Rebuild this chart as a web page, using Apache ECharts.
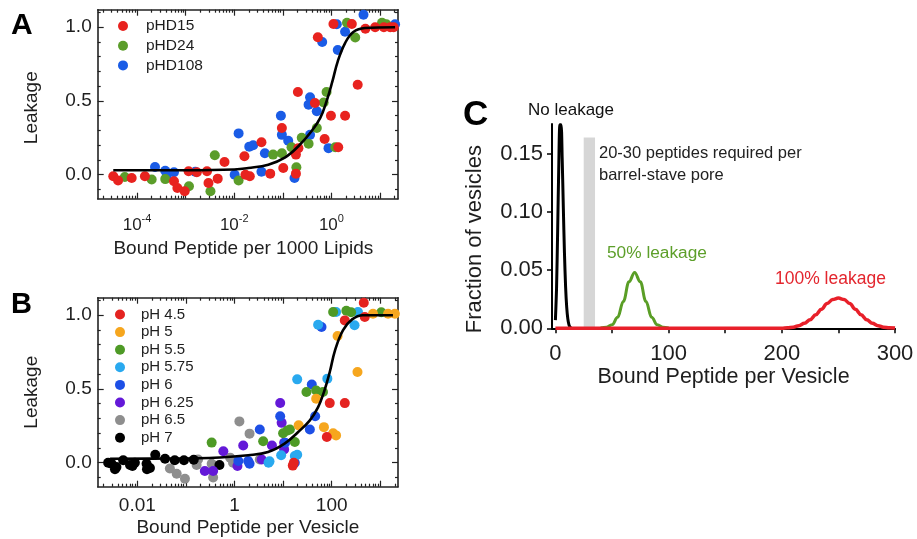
<!DOCTYPE html>
<html><head><meta charset="utf-8">
<script src="https://cdn.jsdelivr.net/npm/echarts@6/dist/echarts.min.js"></script>
<style>html,body{margin:0;padding:0;background:#fff}#c{width:917px;height:539px}</style>
</head><body><div id="c"></div>
<script>
// ---------- Panel A data (x: bound peptide per 1000 lipids, y: leakage) ----------
const pHD15 = [[3.24e-5,-0.011],[4.07e-5,-0.04],[7.76e-5,-0.022],[1.45e-4,-0.011],[5.75e-4,-0.045],[6.76e-4,-0.09],[9.55e-4,-0.113],[1.15e-3,0.023],[1.7e-3,0.016],[2.75e-3,0.023],[2.95e-3,-0.056],[4.57e-3,-0.027],[6.31e-3,0.086],[0.0162,0.125],[0.017,0.0],[0.0209,-0.011],[0.0363,0.22],[0.055,0.007],[0.0955,0.317],[0.102,0.045],[0.186,0.007],[0.186,0.136],[0.204,0.561],[0.209,0.18],[0.457,0.486],[0.525,0.932],[0.724,0.242],[0.977,0.40],[1.10,1.022],[1.38,0.186],[1.91,0.40],[2.63,1.022],[3.47,0.61],[5.0,0.99],[7.94,1.0],[12.0,1.0],[16.2,1.0],[19.1,1.0]];
const pHD24 = [[5.6e-5,-0.016],[2.0e-4,-0.033],[3.8e-4,-0.03],[1.17e-3,-0.079],[3.24e-3,-0.113],[3.98e-3,0.132],[0.0123,-0.04],[0.063,0.136],[0.0955,0.145],[0.151,0.186],[0.19,0.05],[0.245,0.25],[0.339,0.21],[0.50,0.317],[0.692,0.49],[0.794,0.561],[1.20,0.186],[2.09,1.03],[3.09,0.93],[11.0,1.03],[13.5,1.02]];
const pHD108 = [[2.34e-4,0.052],[3.8e-4,0.027],[4.07e-4,-0.016],[5.75e-4,0.016],[1.58e-3,0.02],[0.0102,0.0],[0.0123,0.28],[0.0204,0.19],[0.0245,0.2],[0.0363,0.02],[0.0427,0.145],[0.0912,0.40],[0.0955,0.27],[0.129,0.23],[0.174,-0.022],[0.339,0.475],[0.363,0.525],[0.363,0.27],[0.50,0.43],[0.646,0.90],[0.871,0.18],[1.29,1.02],[1.35,0.846],[1.91,0.97],[4.57,1.085],[20.4,1.02]];
const fitA_x = [3.24e-5,1e-3,0.01,0.0195,0.0501,0.112,0.209,0.389,0.589,0.794,1.05,1.35,1.91,2.82,4.9,20.4];
const fitA_y = [0.03,0.03,0.035,0.045,0.068,0.118,0.193,0.294,0.385,0.498,0.634,0.769,0.893,0.968,0.995,1.0];

// ---------- Panel B data (x: bound peptide per vesicle, y: leakage) ----------
const pH45 = [[15.8,-0.02],[16.6,0.0],[79.4,0.174],[91.2,0.404],[186,0.404],[186,0.965],[457,1.085],[479,0.988]];
const pH5 = [[20.9,0.253],[47.9,0.434],[69.2,0.241],[107,0.2],[123,0.185],[132,0.859],[339,0.615],[708,1.01],[1445,1.01],[1995,1.01]];
const pH55 = [[0.339,0.136],[3.89,0.145],[10,0.2],[12.3,0.219],[13.8,0.225],[17.4,0.14],[30.2,0.479],[47.9,0.49],[66.1,0.479],[107,1.022],[200,1.03],[251,1.02],[1047,1.02]];
const pH575 = [[5.01,0.0],[5.25,0.009],[9.12,0.05],[17.4,0.045],[19.5,0.054],[19.5,0.565],[52.5,0.936],[81.3,0.57],[123,1.022],[295,0.932],[347,1.022]];
const pH6 = [[1.2,0.011],[1.91,0.011],[2.04,-0.007],[3.31,0.225],[8.71,0.315],[11.0,0.135],[17.4,0.0],[35.5,0.225],[38.9,0.53],[45.7,0.315],[61.7,0.92]];
const pH625 = [[0.245,-0.057],[0.363,-0.057],[0.589,0.078],[1.15,-0.023],[1.51,0.117],[3.63,0.022],[5.89,0.117],[8.71,0.405],[9.33,0.27],[10.5,0.135],[10.5,0.09]];
const pH65 = [[0.0468,-0.04],[0.0646,-0.075],[0.0955,-0.109],[0.166,-0.016],[0.178,0.022],[0.339,-0.007],[0.363,-0.1],[0.813,0.034],[0.933,0.0],[1.26,0.28],[2.04,0.197],[3.31,0.022]];
const pH7 = [[0.00251,0.0],[0.00295,-0.007],[0.00347,-0.045],[0.00372,-0.03],[0.00513,0.016],[0.00708,-0.016],[0.00794,-0.023],[0.00891,0.0],[0.0155,-0.007],[0.0158,-0.045],[0.0182,-0.036],[0.0234,0.054],[0.0372,0.027],[0.0589,0.016],[0.0912,0.016],[0.145,0.02],[0.49,-0.016]];
const fitB_x = [0.00275,0.05,0.5,1.91,4.9,10.7,20.4,35.5,52.5,69.2,91.2,117,170,263,437,1820];
const fitB_y = [0.027,0.028,0.035,0.05,0.072,0.129,0.208,0.287,0.377,0.479,0.615,0.762,0.898,0.972,1.0,1.0];

// ---------- Panel C data (x: bound peptide per vesicle, y: fraction of vesicles) ----------
const noLeak_x = [0,1,2,3,4,5,6,7,8,9,10,11,12,13,14];
const noLeak_y = [0.007,0.034,0.084,0.14,0.175,0.175,0.146,0.104,0.065,0.036,0.018,0.008,0.003,0.001,0];
const half_x = [40,45,50,55,60,65,70,75,80,85,90,95,100];
const half_y = [0.0003,0.0009,0.003,0.0095,0.023,0.04,0.048,0.04,0.023,0.0095,0.003,0.0009,0.0002];
const full_x = [0,100,200,205,210,215,220,225,230,235,240,245,250,255,260,265,270,275,280,285,290,295,300];
const full_y = [0,0,0,0.0005,0.001,0.0023,0.0043,0.0074,0.0117,0.0163,0.0213,0.0248,0.026,0.0248,0.0213,0.0163,0.0117,0.0074,0.0043,0.0023,0.001,0.0005,0.0002];
const barrel_x = [25,35];
const barrel_top = 0.164;

// tick labels
const aXLabels = [1e-4,1e-2,1];
const bXLabels = [0.01,1,100];
const abYLabels = [0,0.5,1];
const cXLabels = [0,100,200,300];
const cYLabels = [0,0.05,0.10,0.15];

// ---------- styling / layout ----------
const FONT = 'Liberation Sans';
const TXT = '#1e1e1e';
const LINE = '#222';
function decadeMinor(k0,k1){const r=[];for(let k=k0;k<=k1;k++)for(let m=2;m<=9;m++)r.push(m*Math.pow(10,k));return r;}
function decadeMajor(k0,k1){const r=[];for(let k=k0;k<=k1;k++)r.push(Math.pow(10,k));return r;}
const linMinor=[-0.1,0.1,0.2,0.3,0.4,0.6,0.7,0.8,0.9,1.1];

function mk(grid,type,pos,min,max,ticks,len,line,label,name){
  const ax={type,gridIndex:grid,position:pos,min,max,silent:true,
    axisLine:{show:line,onZero:false,lineStyle:{color:LINE,width:1.6}},
    axisTick:{show:true,inside:true,length:len,customValues:ticks,lineStyle:{color:LINE,width:1.2}},
    axisLabel:{show:false},splitLine:{show:false},minorTick:{show:false}};
  if(type==='log') ax.logBase=10;
  if(label){ax.axisLabel=Object.assign({show:true,color:TXT,fontFamily:FONT,fontSize:19},label);}
  if(name){Object.assign(ax,{name:name.text,nameLocation:'middle',nameGap:name.gap,
    nameTextStyle:{color:TXT,fontFamily:FONT,fontSize:name.size||19,padding:name.padding||0}});}
  return ax;
}
const aXmin=1.549e-5,aXmax=23.44,bXmin=1.531e-3,bXmax=2312,yMin=-0.163,yMax=1.119;
const supRich={b:{fontSize:17,lineHeight:20,verticalAlign:'bottom',color:TXT,fontFamily:FONT},
  s:{fontSize:11,lineHeight:11,padding:[0,0,14,0],verticalAlign:'top',color:TXT,fontFamily:FONT}};
const xAxes=[
  mk(0,'log','bottom',aXmin,aXmax,decadeMajor(-4,1),6,true,
     {customValues:aXLabels,margin:15,rich:supRich,formatter:v=>'{b|10}{s|'+Math.round(Math.log10(v))+'}'},
     {text:'Bound Peptide per 1000 Lipids',gap:34,padding:[0,9,0,0]}),
  mk(0,'log','bottom',aXmin,aXmax,decadeMinor(-5,1),3,false),
  mk(0,'log','top',aXmin,aXmax,decadeMajor(-4,1),6,true),
  mk(0,'log','top',aXmin,aXmax,decadeMinor(-5,1),3,false),
  mk(1,'log','bottom',bXmin,bXmax,decadeMajor(-2,3),6,true,
     {customValues:bXLabels,margin:10,lineHeight:19,formatter:v=>v>=1?String(Math.round(v)):String(v)},
     {text:'Bound Peptide per Vesicle',gap:32}),
  mk(1,'log','bottom',bXmin,bXmax,decadeMinor(-3,3),3,false),
  mk(1,'log','top',bXmin,bXmax,decadeMajor(-2,3),6,true),
  mk(1,'log','top',bXmin,bXmax,decadeMinor(-3,3),3,false),
  {type:'value',gridIndex:2,position:'bottom',min:-3,max:300,silent:true,
    axisLine:{show:true,onZero:false,lineStyle:{color:'#000',width:2}},
    axisTick:{show:true,inside:false,length:5,customValues:[0,50,100,150,200,250,300],lineStyle:{color:'#000',width:1.5}},
    axisLabel:{show:true,customValues:cXLabels,margin:15,color:TXT,fontFamily:FONT,fontSize:22},
    splitLine:{show:false},
    name:'Bound Peptide per Vesicle',nameLocation:'middle',nameGap:38,
    nameTextStyle:{color:TXT,fontFamily:FONT,fontSize:21.5}}
];
const yAxes=[
  mk(0,'value','left',yMin,yMax,abYLabels,6,true,
     {customValues:abYLabels,margin:6,formatter:v=>v.toFixed(1)},
     {text:'Leakage',gap:56,padding:[0,7,0,0]}),
  mk(0,'value','left',yMin,yMax,linMinor,3,false),
  mk(0,'value','right',yMin,yMax,abYLabels,6,true),
  mk(0,'value','right',yMin,yMax,linMinor,3,false),
  mk(1,'value','left',yMin,yMax,abYLabels,6,true,
     {customValues:abYLabels,margin:6,formatter:v=>v.toFixed(1)},
     {text:'Leakage',gap:56}),
  mk(1,'value','left',yMin,yMax,linMinor,3,false),
  mk(1,'value','right',yMin,yMax,abYLabels,6,true),
  mk(1,'value','right',yMin,yMax,linMinor,3,false),
  {type:'value',gridIndex:2,position:'left',min:0,max:0.1757,silent:true,
    axisLine:{show:true,onZero:false,lineStyle:{color:'#000',width:2}},
    axisTick:{show:true,inside:false,length:5,customValues:cYLabels,lineStyle:{color:'#000',width:1.5}},
    axisLabel:{show:true,customValues:cYLabels,margin:9,color:TXT,fontFamily:FONT,fontSize:22,formatter:v=>v.toFixed(2)},
    splitLine:{show:false},
    name:'Fraction of vesicles',nameLocation:'middle',nameGap:66,
    nameTextStyle:{color:TXT,fontFamily:FONT,fontSize:22,padding:[0,26,0,0]}}
];

function sc(name,data,color,xi,z){return {name,type:'scatter',data,xAxisIndex:xi,yAxisIndex:xi,symbol:'circle',symbolSize:10,itemStyle:{color,opacity:1},z:z||2,silent:true};}
function zip(xs,ys){return xs.map((x,i)=>[x,ys[i]]);}

const series=[
  sc('pHD108',pHD108,'#1a5ce6',0),
  sc('pHD24',pHD24,'#5b9d2a',0),
  sc('pHD15',pHD15,'#e8231f',0),
  {name:'fitA',type:'line',data:zip(fitA_x,fitA_y),xAxisIndex:0,yAxisIndex:0,smooth:0.4,symbol:'none',lineStyle:{color:'#000',width:2.6},z:5,silent:true},
  sc('pH 6.5',pH65,'#8e8e8e',4),
  sc('pH 7',pH7,'#000000',4),
  sc('pH 6.25',pH625,'#6419d8',4),
  sc('pH 6',pH6,'#1d4fe6',4),
  sc('pH 5.75',pH575,'#29a9ef',4),
  sc('pH 5.5',pH55,'#4e9a26',4),
  sc('pH 5',pH5,'#f6a61e',4),
  sc('pH 4.5',pH45,'#e42320',4),
  {name:'fitB',type:'line',data:zip(fitB_x,fitB_y),xAxisIndex:4,yAxisIndex:4,smooth:0.4,symbol:'none',lineStyle:{color:'#000',width:2.6},z:5,silent:true},
  {name:'No leakage',type:'line',data:zip(noLeak_x,noLeak_y),xAxisIndex:8,yAxisIndex:8,smooth:0.3,symbol:'none',lineStyle:{color:'#000',width:3},z:3,silent:true},
  {name:'50% leakage',type:'line',data:zip(half_x,half_y),xAxisIndex:8,yAxisIndex:8,smooth:0.4,smoothMonotone:'x',symbol:'none',lineStyle:{color:'#5a9e26',width:3},z:3,silent:true},
  {name:'100% leakage',type:'line',data:zip(full_x,full_y),xAxisIndex:8,yAxisIndex:8,smooth:0.4,smoothMonotone:'x',symbol:'none',lineStyle:{color:'#e8202a',width:3.5},z:4,silent:true},
  {name:'barrel',type:'line',data:[],xAxisIndex:8,yAxisIndex:8,z:6,silent:true,
    markArea:{silent:true,itemStyle:{color:'#d2d2d2',opacity:0.9},data:[[{coord:[barrel_x[0],0]},{coord:[barrel_x[1],barrel_top]}]]}}
];

function txt(t,x,y,size,color,weight){return {type:'text',x,y,z:100,silent:true,style:{text:t,x:0,y:0,fill:color,font:(weight||'normal')+' '+size+'px "'+FONT+'"',fontSize:size,fontFamily:FONT,fontWeight:weight||'normal',textAlign:'left',textVerticalAlign:'middle',align:'left',verticalAlign:'middle'}};}

const option={
  animation:false,
  backgroundColor:'#fff',
  textStyle:{fontFamily:FONT},
  grid:[
    {left:97.7,top:9.7,width:300.3,height:189,containLabel:false},
    {left:97.7,top:297.7,width:300.3,height:189,containLabel:false},
    {left:552,top:124,width:343,height:204.3,containLabel:false}
  ],
  xAxis:xAxes,
  yAxis:yAxes,
  legend:[
    {data:['pHD15','pHD24','pHD108'],orient:'vertical',left:113,top:13,itemWidth:10,itemHeight:10,itemGap:3.7,icon:'circle',selectedMode:false,
      formatter:n=>'{t|'+n+'}',
      textStyle:{fontSize:15.5,color:TXT,fontFamily:FONT,rich:{t:{fontSize:15.5,lineHeight:16,color:TXT,fontFamily:FONT,padding:[0,0,0,13]}}}},
    {data:['pH 4.5','pH 5','pH 5.5','pH 5.75','pH 6','pH 6.25','pH 6.5','pH 7'],orient:'vertical',left:110,top:302,itemWidth:10,itemHeight:10,itemGap:2.6,icon:'circle',selectedMode:false,
      formatter:n=>'{t|'+n+'}',
      textStyle:{fontSize:15,color:TXT,fontFamily:FONT,rich:{t:{fontSize:15,lineHeight:15,color:TXT,fontFamily:FONT,padding:[0,0,0,11]}}}}
  ],
  graphic:[
    txt('A',11,26,30,'#000','bold'),
    txt('B',11,305,29,'#000','bold'),
    txt('C',463,115,35,'#000','bold'),
    txt('No leakage',528,110,17,'#111'),
    txt('20-30 peptides required per',599,153,16.5,'#222'),
    txt('barrel-stave pore',599,175,16.5,'#222'),
    txt('50% leakage',607,253,17.3,'#5d9f2a'),
    txt('100% leakage',775,279,17.5,'#e3262e')
  ],
  series
};
const chart=echarts.init(document.getElementById('c'),null,{renderer:'canvas'});
chart.setOption(option);
</script></body></html>
